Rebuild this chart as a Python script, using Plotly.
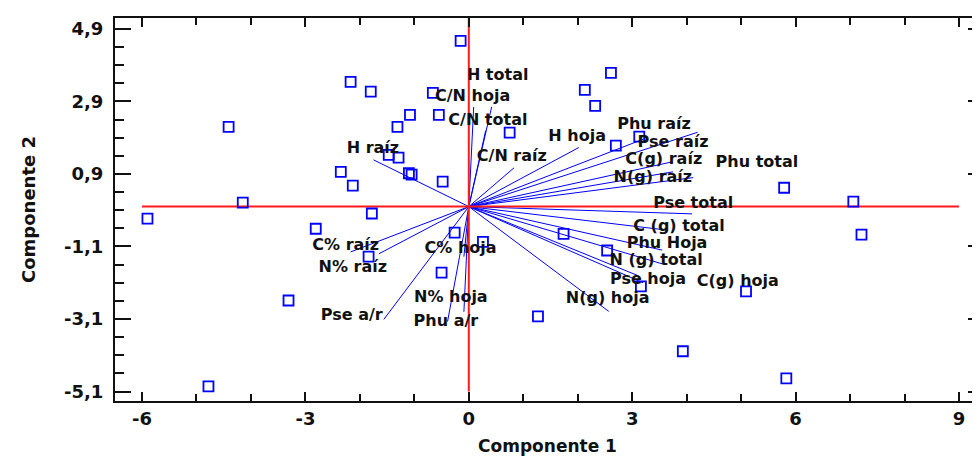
import plotly.graph_objects as go

# Observation scores (Componente 1, Componente 2)
score_x = [-0.15, -2.17, -1.80, -4.41, 2.61, 2.13, 2.32, -0.66, -1.08, -0.55, -1.31, 0.75,
           -1.47, -1.29, -1.05, -1.10, -2.35, -2.13, -0.48, -4.15, -5.90, -1.78, -2.81, -0.26,
           0.26, -1.84, -0.50, -3.31, 1.27, -4.78, 2.70, 3.13, 5.79, 7.06, 7.21, 1.74, 2.54,
           3.16, 5.09, 3.93, 5.83]
score_y = [4.57, 3.44, 3.17, 2.20, 3.69, 3.22, 2.78, 3.14, 2.53, 2.53, 2.20, 2.04,
           1.43, 1.35, 0.88, 0.92, 0.96, 0.58, 0.69, 0.11, -0.33, -0.19, -0.61, -0.72,
           -0.97, -1.38, -1.82, -2.59, -3.03, -4.96, 1.68, 1.93, 0.52, 0.14, -0.77, -0.75, -1.21,
           -2.20, -2.34, -3.99, -4.74]

# Variable loadings (vectors) and label anchors
var_names = ["H total", "C/N hoja", "C/N total", "C/N raíz", "H hoja", "H raíz",
             "Phu raíz", "Pse raíz", "C(g) raíz", "Phu total", "N(g) raíz",
             "Pse total", "C (g) total", "Phu Hoja", "N (g) total", "Pse hoja",
             "C(g) hoja", "N(g) hoja", "C% raíz", "N% raíz", "C% hoja", "N% hoja",
             "Pse a/r", "Phu a/r"]
load_x = [0.42, 0.09, 0.31, 0.83, 2.02, -1.75, 4.20, 3.22, 3.75, 3.75, 4.12,
          4.10, 3.65, 3.55, 3.60, 3.10, 3.20, 2.57, -2.17, -1.65, -0.09, -0.09,
          -1.56, -0.39]
load_y = [2.75, 2.75, 2.10, 1.07, 1.63, 1.29, 2.05, 1.87, 1.24, 0.96, 0.80,
          -0.20, -0.65, -1.20, -1.60, -1.90, -2.10, -2.89, -1.25, -1.30, -1.38, -2.90,
          -3.11, -3.17]
label_x = [0.53, 0.07, 0.35, 0.79, 1.99, -1.76, 3.40, 3.75, 3.58, 5.29, 3.38,
           4.12, 3.86, 3.64, 3.44, 3.29, 4.94, 2.55, -2.26, -2.13, -0.15, -0.33,
           -2.15, -0.42]
label_y = [3.61, 3.03, 2.37, 1.38, 1.93, 1.60, 2.24, 1.76, 1.29, 1.21, 0.80,
           0.06, -0.55, -1.02, -1.50, -2.03, -2.07, -2.55, -1.10, -1.68, -1.16, -2.53,
           -3.03, -3.17]

x_ticks = [-6, -3, 0, 3, 6, 9]
x_ticktext = ["-6", "-3", "0", "3", "6", "9"]
y_ticks = [4.9, 2.9, 0.9, -1.1, -3.1, -5.1]
y_ticktext = ["4,9", "2,9", "0,9", "-1,1", "-3,1", "-5,1"]

x_range = [-6.496, 9.386]
y_range = [-5.362, 5.203]

BOLD = dict(family="DejaVu Sans, Verdana, sans-serif", color="#111111", weight="bold")

fig = go.Figure()

# vectors from origin
vx, vy = [], []
for a, b in zip(load_x, load_y):
    vx += [0, a, None]
    vy += [0, b, None]
fig.add_trace(go.Scatter(x=vx, y=vy, mode="lines", line=dict(color="#0000ff", width=1),
                         hoverinfo="skip", showlegend=False))

# red reference axes
fig.add_trace(go.Scatter(x=[x_ticks[0], x_ticks[-1]], y=[0, 0], mode="lines",
                         line=dict(color="#ff1a1a", width=2), showlegend=False))
fig.add_trace(go.Scatter(x=[0, 0], y=[y_ticks[-1], y_range[1]], mode="lines",
                         line=dict(color="#ff1a1a", width=2), showlegend=False))

# scores
fig.add_trace(go.Scatter(x=score_x, y=score_y, mode="markers",
                         marker=dict(symbol="square-open", size=10, color="#0000ff",
                                     line=dict(width=1.8, color="#0000ff")),
                         showlegend=False))

# labels
fig.add_trace(go.Scatter(x=label_x, y=label_y, mode="text", text=var_names,
                         textposition="middle center",
                         textfont=dict(size=16, **BOLD), showlegend=False))

# right-side ticks (no frame line)
fig.add_trace(go.Scatter(x=[None], y=[None], yaxis="y2", showlegend=False))

# the page body adds an 8px offset, so the figure is sized to end at the window edge
fig.update_layout(
    width=972, height=448,
    margin=dict(l=107, r=0, t=10, b=55),
    plot_bgcolor="white", paper_bgcolor="white",
    xaxis=dict(range=x_range, tickmode="array", tickvals=x_ticks, ticktext=x_ticktext,
               ticks="inside", ticklen=9, tickwidth=1.5, tickcolor="#111",
               minor=dict(dtick=1, tick0=0, ticks="inside", ticklen=7, tickwidth=1.5, tickcolor="#111"),
               showline=True, linecolor="#111", linewidth=2, mirror="ticks",
               showgrid=False, zeroline=False, automargin=False,
               tickfont=dict(size=18, **BOLD), ticklabelstandoff=0,
               title=dict(text="Componente 1", font=dict(size=17, **BOLD), standoff=14)),
    yaxis=dict(range=y_range, tickmode="array", tickvals=y_ticks, ticktext=y_ticktext,
               ticks="inside", ticklen=16, tickwidth=1.5, tickcolor="#111",
               minor=dict(dtick=0.5, tick0=0.9, ticks="inside", ticklen=9, tickwidth=1.5, tickcolor="#111"),
               showline=True, linecolor="#111", linewidth=2, mirror=False,
               showgrid=False, zeroline=False, automargin=False,
               tickfont=dict(size=18, **BOLD), ticklabelstandoff=6,
               title=dict(text="Componente 2", font=dict(size=18, **BOLD), standoff=24)),
    yaxis2=dict(range=y_range, overlaying="y", side="right", tickmode="array",
                tickvals=y_ticks, showticklabels=False,
                ticks="inside", ticklen=12, tickwidth=1.5, tickcolor="#111",
                minor=dict(dtick=0.5, tick0=0.9, ticks="inside", ticklen=4, tickwidth=1.5, tickcolor="#111"),
                showline=False, showgrid=False, zeroline=False, automargin=False),
)

fig.write_html("out.html")
